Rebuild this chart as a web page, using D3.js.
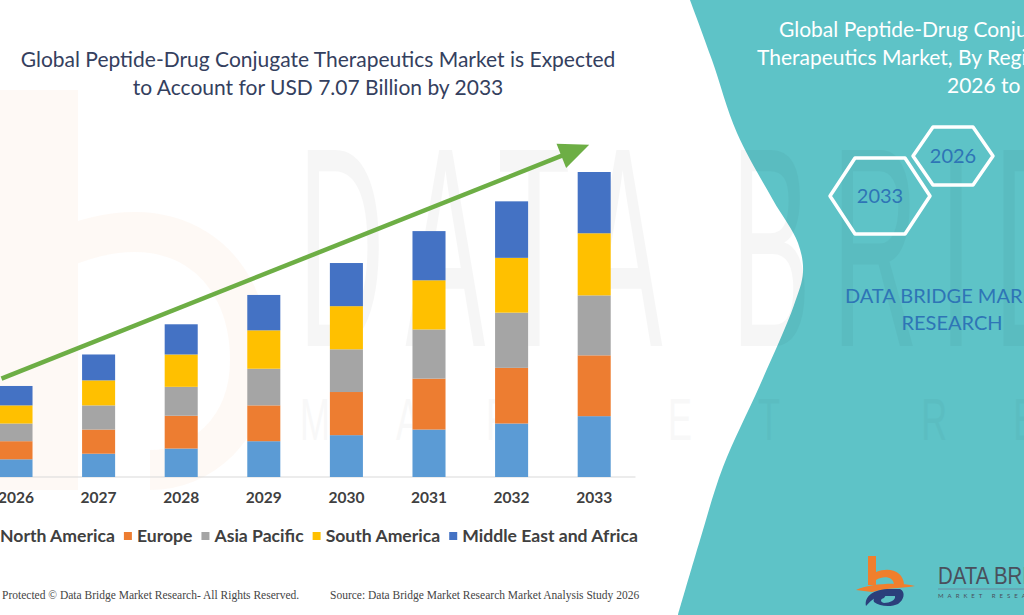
<!DOCTYPE html>
<html>
<head>
<meta charset="utf-8">
<script src="https://d3js.org/d3.v7.min.js"></script>
<style>
  html, body { margin: 0; padding: 0; background: #fff; }
  svg { display: block; font-family: Lato, "Open Sans", sans-serif; }
</style>
</head>
<body>
<div id="chart"></div>
<script>
// market size, USD billion
const years = ["2026", "2027", "2028", "2029", "2030", "2031", "2032", "2033"];
const regions = ["North America", "Europe", "Asia Pacific", "South America", "Middle East and Africa"];
const northAmerica = [0.41, 0.54, 0.66, 0.83, 0.97, 1.10, 1.24, 1.41];
const europe       = [0.42, 0.56, 0.76, 0.83, 1.00, 1.18, 1.29, 1.41];
const asiaPacific  = [0.41, 0.56, 0.67, 0.85, 0.99, 1.14, 1.28, 1.39];
const southAmerica = [0.42, 0.58, 0.75, 0.89, 1.00, 1.14, 1.27, 1.44];
const middleEast   = [0.45, 0.60, 0.70, 0.82, 1.00, 1.14, 1.31, 1.42];
const colors = ["#5B9BD5", "#ED7D31", "#A5A5A5", "#FFC000", "#4472C4"];

const W = 1024, H = 615;
const svg = d3.select("#chart").append("svg").attr("width", W).attr("height", H);

// rows for d3.stack
const seriesValues = [northAmerica, europe, asiaPacific, southAmerica, middleEast];
const rows = years.map((y, i) => {
  const r = { year: y };
  regions.forEach((k, j) => r[k] = seriesValues[j][i]);
  return r;
});
const stacked = d3.stack().keys(regions)(rows);
const maxTotal = d3.max(rows, r => d3.sum(regions, k => r[k]));

const x = d3.scaleBand().domain(years).range([-25.3, 635.5]).paddingInner(0.6).paddingOuter(0.3);
const y = d3.scaleLinear().domain([0, maxTotal]).range([477, 172]);

// faint watermark: the big "b"
const wm = svg.append("g").attr("pointer-events", "none");
wm.append("path")
  .attr("d", "M18,110 L58,110 L58,470 L18,470 Z M58,250 C170,200 250,260 250,360 C250,430 200,470 150,470")
  .attr("fill", "none").attr("stroke", "#f7b27a").attr("stroke-width", 40).attr("opacity", 0.08);

// teal right panel
const edge = [[690,0],[712,60],[737,133],[773,200],[798,243],[803,272],[794,305],[760,385],[723,467],[700,540],[678,615]];
const edgeLine = d3.line().curve(d3.curveCatmullRom);
svg.append("path")
  .attr("d", edgeLine(edge) + "L1024,615L1024,0Z")
  .attr("fill", "#5EC3C7");

// faint watermark lettering
const wmText = svg.append("g").attr("pointer-events", "none");
wmText.append("text")
  .attr("transform", "translate(298,346) scale(0.42,1)")
  .attr("font-family", "Liberation Sans, sans-serif")
  .attr("font-size", 285)
  .attr("letter-spacing", 50)
  .attr("fill", "#000").attr("opacity", 0.03)
  .text("DATA BRIDGE");
wmText.append("text")
  .attr("transform", "translate(300,440) scale(0.6,1)")
  .attr("font-family", "Liberation Sans, sans-serif")
  .attr("font-size", 60)
  .attr("letter-spacing", 110)
  .attr("fill", "#000").attr("opacity", 0.025)
  .text("MARKET RESEARCH");

// left title
const title = svg.append("text").attr("text-anchor", "middle")
  .attr("fill", "#34405E").attr("font-size", 21);
title.append("tspan").attr("x", 318).attr("y", 67)
  .text("Global Peptide-Drug Conjugate Therapeutics Market is Expected");
title.append("tspan").attr("x", 318).attr("y", 95)
  .text("to Account for USD 7.07 Billion by 2033");

// axis baseline
svg.append("line")
  .attr("x1", x.range()[0]).attr("x2", x.range()[1])
  .attr("y1", y(0)).attr("y2", y(0))
  .attr("stroke", "#D9D9D9").attr("stroke-width", 1);

// stacked bars
svg.append("g").selectAll("g").data(stacked).join("g")
  .attr("fill", (d, i) => colors[i])
  .selectAll("rect").data(d => d).join("rect")
  .attr("x", d => x(d.data.year))
  .attr("y", d => y(d[1]))
  .attr("width", x.bandwidth())
  .attr("height", d => y(d[0]) - y(d[1]));

// year labels
const xAxis = svg.append("g").attr("transform", `translate(0,${y(0)})`)
  .call(d3.axisBottom(x).tickSize(0).tickPadding(15));
xAxis.select(".domain").remove();
xAxis.selectAll("text")
  .attr("font-family", "Lato, sans-serif").attr("font-size", 15.5)
  .attr("font-weight", "bold").attr("fill", "#404040");

// growth arrow, anchored to the first and last bars
const arrowStart = [x(years[0]) + 2, y(2.28)];
const arrowEnd = [x(years[years.length - 1]) + x.bandwidth() / 2 - 5, y(7.7)];
const ang = Math.atan2(arrowEnd[1] - arrowStart[1], arrowEnd[0] - arrowStart[0]);
const headLen = 30, headHalf = 13;
const baseX = arrowEnd[0] - headLen * Math.cos(ang), baseY = arrowEnd[1] - headLen * Math.sin(ang);
svg.append("line")
  .attr("x1", arrowStart[0]).attr("y1", arrowStart[1])
  .attr("x2", baseX + 2 * Math.cos(ang)).attr("y2", baseY + 2 * Math.sin(ang))
  .attr("stroke", "#6DAE45").attr("stroke-width", 4.5);
svg.append("path")
  .attr("d", d3.line()([
    arrowEnd,
    [baseX - headHalf * Math.sin(ang), baseY + headHalf * Math.cos(ang)],
    [baseX + headHalf * Math.sin(ang), baseY - headHalf * Math.cos(ang)]
  ]) + "Z")
  .attr("fill", "#6DAE45");

// legend
const legend = svg.append("g").attr("font-size", 17.6).attr("font-weight", "bold").attr("fill", "#404040");
let lx = 0;
regions.forEach((r, i) => {
  legend.append("rect").attr("x", lx - 13).attr("y", 532).attr("width", 8).attr("height", 8).attr("fill", colors[i]);
  const t = legend.append("text").attr("x", lx).attr("y", 542).text(r);
  lx += t.node().getComputedTextLength() + 22;
});

// footer
const foot = svg.append("g").attr("font-family", "Liberation Serif, serif").attr("font-size", 11.5).attr("fill", "#444");
foot.append("text").attr("x", 2).attr("y", 599).text("Protected \u00A9 Data Bridge Market Research- All Rights Reserved.");
foot.append("text").attr("x", 330).attr("y", 599).text("Source: Data Bridge Market Research Market Analysis Study 2026");

// right panel title
const rt = svg.append("text").attr("fill", "#fff").attr("font-size", 21);
rt.append("tspan").attr("x", 779).attr("y", 37).text("Global Peptide-Drug Conjugate");
rt.append("tspan").attr("x", 757).attr("y", 65).text("Therapeutics Market, By Region,");
rt.append("tspan").attr("x", 947).attr("y", 93).text("2026 to 2033");

// hexagons
function hexPts(cx, cy, w, h) {
  return [[cx - w, cy], [cx - w / 2, cy - h], [cx + w / 2, cy - h], [cx + w, cy], [cx + w / 2, cy + h], [cx - w / 2, cy + h]];
}
const hexes = [
  { label: years[0], cx: 953, cy: 156, w: 40, h: 29 },
  { label: years[years.length - 1], cx: 880, cy: 196, w: 50, h: 38 }
];
hexes.forEach(hx => {
  svg.append("path").attr("d", d3.line()(hexPts(hx.cx, hx.cy, hx.w, hx.h)) + "Z")
    .attr("fill", "none").attr("stroke", "#fff").attr("stroke-width", 3.5).attr("stroke-linejoin", "round");
  svg.append("text").attr("x", hx.cx).attr("y", hx.cy + 7).attr("text-anchor", "middle")
    .attr("font-size", 20).attr("fill", "#2E75B6").text(hx.label);
});

const brand = svg.append("text").attr("text-anchor", "middle").attr("fill", "#2E75B6").attr("font-size", 20);
brand.append("tspan").attr("x", 952).attr("y", 303).text("DATA BRIDGE MARKET");
brand.append("tspan").attr("x", 952).attr("y", 330).text("RESEARCH");

// logo
const logo = svg.append("g");
logo.append("path").attr("d", "M868,556 L876,556 L876,572 C890,566 904,572 904,585 L894,585 C894,577 884,575 876,580 L876,585 L868,585 Z").attr("fill", "#F07F2D");
logo.append("path").attr("d", "M856,590 C870,583 900,582 915,586 C905,588 885,588 872,592 Z").attr("fill", "#F07F2D");
logo.append("path").attr("d", "M866,606 C864,596 874,589 890,589 L900,589 C906,592 904,600 898,604 C892,607 880,607 874,602 C872,598 878,594 886,595 L884,598 C880,599 880,602 884,603 C890,603 896,600 895,596 L880,596 C873,598 870,602 866,606 Z").attr("fill", "#2B3F7B");
logo.append("text").attr("transform", "translate(938,584) scale(0.85,1)").attr("font-size", 24).attr("fill", "#4A4F5C")
  .attr("font-family", "Liberation Sans, sans-serif").text("DATA BRIDGE");
logo.append("line").attr("x1", 938).attr("x2", 1024).attr("y1", 589).attr("y2", 589).attr("stroke", "#6d7f9a").attr("stroke-width", 0.8);
logo.append("text").attr("x", 938).attr("y", 598).attr("font-size", 6).attr("letter-spacing", 4).attr("fill", "#4A4F5C")
  .text("MARKET RESEARCH");
</script>
</body>
</html>
